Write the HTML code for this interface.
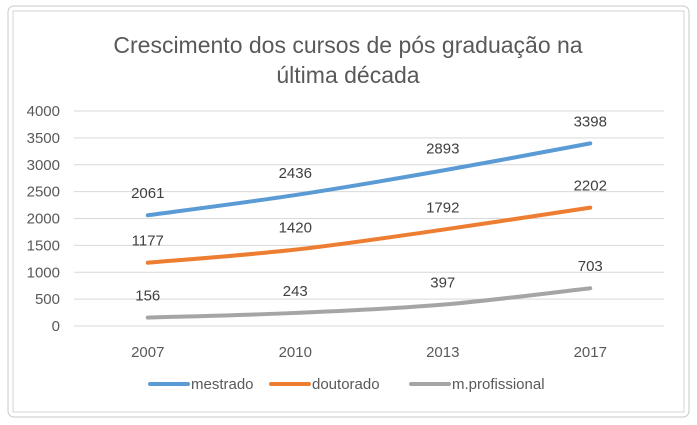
<!DOCTYPE html>
<html><head><meta charset="utf-8"><style>
html,body{margin:0;padding:0;background:#fff;}
svg{display:block;font-family:"Liberation Sans",Calibri,sans-serif;}
</style></head><body>
<svg id="chart" width="697" height="425" viewBox="0 0 697 425">
<rect x="8" y="6" width="681" height="411" rx="6" fill="#fff" stroke="#c8c8c8" stroke-width="1"/>
<rect x="13" y="11" width="671" height="401" fill="#fff" stroke="#d4d4d4" stroke-width="1"/>
<text x="348" y="53" text-anchor="middle" font-size="23" fill="#595959">Crescimento dos cursos de pós graduação na</text>
<text x="348" y="83" text-anchor="middle" font-size="23" fill="#595959">última década</text>
<g id="grid"></g><g id="series"></g><g id="legend"></g>
</svg>
<script>
const categories = ["2007","2010","2013","2017"];
const mestrado = [2061,2436,2893,3398];
const doutorado = [1177,1420,1792,2202];
const profissional = [156,243,397,703];
const yTicks = [0,500,1000,1500,2000,2500,3000,3500,4000];
const seriesNames = ["mestrado","doutorado","m.profissional"];
const colors = ["#5b9bd5","#ed7d31","#a5a5a5"];
const NS="http://www.w3.org/2000/svg";
const y0=326, y1=111, x0=74, x1=664;
function yScale(v){return y0-(v/4000)*(y0-y1);}
function xScale(i){const w=(x1-x0)/categories.length;return x0+w*(i+0.5);}
function mk(tag,attrs,parent){const e=document.createElementNS(NS,tag);for(const k in attrs)e.setAttribute(k,attrs[k]);parent.appendChild(e);return e;}
const grid=document.getElementById('grid');
yTicks.forEach(t=>{
  const l=mk('line',{x1:x0,x2:x1,y1:yScale(t),y2:yScale(t),stroke:'#d9d9d9','stroke-width':1},grid);
  
  
  const tx=mk('text',{x:60,y:yScale(t)+5,'text-anchor':'end','font-size':15,fill:'#595959'},grid);
  tx.textContent=t;
  
  
});
categories.forEach((c,i)=>{
  const tx=mk('text',{x:xScale(i),y:357,'text-anchor':'middle','font-size':15,fill:'#595959'},grid);
  tx.textContent=c;
  
  
});
function smooth(pts){
  let d='M'+pts[0][0]+','+pts[0][1];
  for(let i=0;i<pts.length-1;i++){
    const p0=pts[i-1]||pts[i],p1=pts[i],p2=pts[i+1],p3=pts[i+2]||p2;
    const c1=[p1[0]+(p2[0]-p0[0])/6,p1[1]+(p2[1]-p0[1])/6];
    const c2=[p2[0]-(p3[0]-p1[0])/6,p2[1]-(p3[1]-p1[1])/6];
    d+=' C'+c1+' '+c2+' '+p2;
  }
  return d;
}
const sg=document.getElementById('series');
[mestrado,doutorado,profissional].forEach((vals,s)=>{
  const pts=vals.map((v,i)=>[xScale(i),yScale(v)]);
  const p=mk('path',{d:smooth(pts),fill:'none',stroke:colors[s],'stroke-width':4,'stroke-linecap':'round'},sg);
  
  
  vals.forEach((v,i)=>{
    const t=mk('text',{x:xScale(i),y:yScale(v)-17,'text-anchor':'middle','font-size':15,fill:'#404040'},sg);
    t.textContent=v;
    
    
  });
});
const lg=document.getElementById('legend');
const lx=[150,271,411];
seriesNames.forEach((n,s)=>{
  const l=mk('line',{x1:lx[s],x2:lx[s]+38,y1:384,y2:384,stroke:colors[s],'stroke-width':4,'stroke-linecap':'round'},lg);
  
  
  const t=mk('text',{x:lx[s]+41,y:389,'font-size':15,fill:'#595959'},lg);
  t.textContent=n;
  
  
});
</script>
</body></html>
